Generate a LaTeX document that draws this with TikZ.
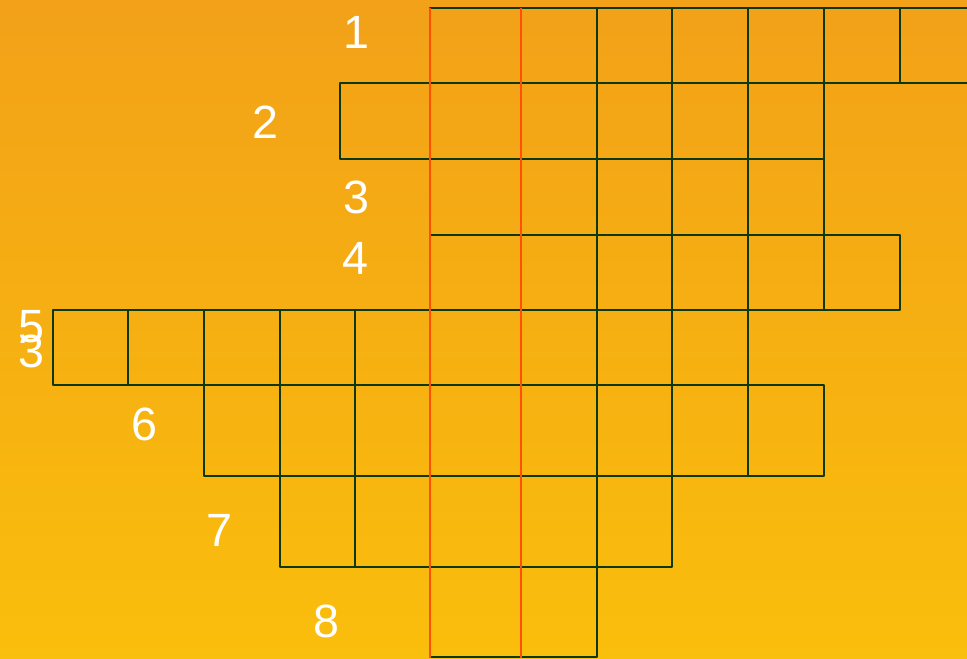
\documentclass[tikz,border=0pt]{standalone}
\usepackage{fontspec}
\setmainfont{Liberation Sans}
\usetikzlibrary{positioning}

\definecolor{bgTop}{RGB}{242,161,24}
\definecolor{bgBot}{RGB}{250,190,12}
\definecolor{gridGreen}{RGB}{12,56,12}
\definecolor{keyRed}{RGB}{255,80,0}

\begin{document}
\begin{tikzpicture}[
      x=0.75pt, y=-0.75pt,
      line cap=rect, line join=round,
      cell/.style={draw=gridGreen, line width=1.9pt},
      keyline/.style={draw=keyRed, line width=2.2pt, line cap=butt},
      num/.style={text=white, inner sep=0pt,
        font=\fontsize{35}{40}\selectfont}
    ]

    % ------------------ Background ------------------
    \useasboundingbox (0,0) rectangle (967,658);
    \shade[top color=bgTop, bottom color=bgBot] (0,0) rectangle (967,658);

    % ------------------ Rows of cells ------------------
    % row 1
    \foreach \a/\b in {430/521,521/597,597/672,672/748,748/824,824/900,900/980}
      \draw[cell] (\a,8) rectangle (\b,83);
    % row 2
    \foreach \a/\b in {340/430,430/521,521/597,597/672,672/748,748/824}
      \draw[cell] (\a,83) rectangle (\b,159);
    % row 3
    \foreach \a/\b in {430/521,521/597,597/672,672/748,748/824}
      \draw[cell] (\a,159) rectangle (\b,235);
    % row 4
    \foreach \a/\b in {430/521,521/597,597/672,672/748,748/824,824/900}
      \draw[cell] (\a,235) rectangle (\b,310);
    % row 5
    \foreach \a/\b in {53/128,128/204,204/280,280/355,355/430,430/521,521/597,597/672,672/748}
      \draw[cell] (\a,310) rectangle (\b,385);
    % row 6
    \foreach \a/\b in {204/280,280/355,355/430,430/521,521/597,597/672,672/748,748/824}
      \draw[cell] (\a,385) rectangle (\b,476);
    % row 7
    \foreach \a/\b in {280/355,355/430,430/521,521/597,597/672}
      \draw[cell] (\a,476) rectangle (\b,567);
    % row 8
    \foreach \a/\b in {430/521,521/597}
      \draw[cell] (\a,567) rectangle (\b,657);

    % ------------------ Key columns ------------------
    \draw[keyline] (430,8) -- (430,658);
    \draw[keyline] (521,8) -- (521,658);

    % ------------------ Numbers ------------------
    \node[num] (num1) at (356,32) {1};
    \node[num] (num2) at (265,122) {2};
    \node[num] (num3) at (356,197) {3};
    \node[num] (num4) at (355,258) {4};
    \node[num] (num5) at (31,327) {5};
    \node[num] (num5b) at (31,351) {3};
    \node[num] (num6) at (144,424) {6};
    \node[num] (num7) at (219,530) {7};
    \node[num] (num8) at (326,621) {8};

  \end{tikzpicture}
\end{document}
